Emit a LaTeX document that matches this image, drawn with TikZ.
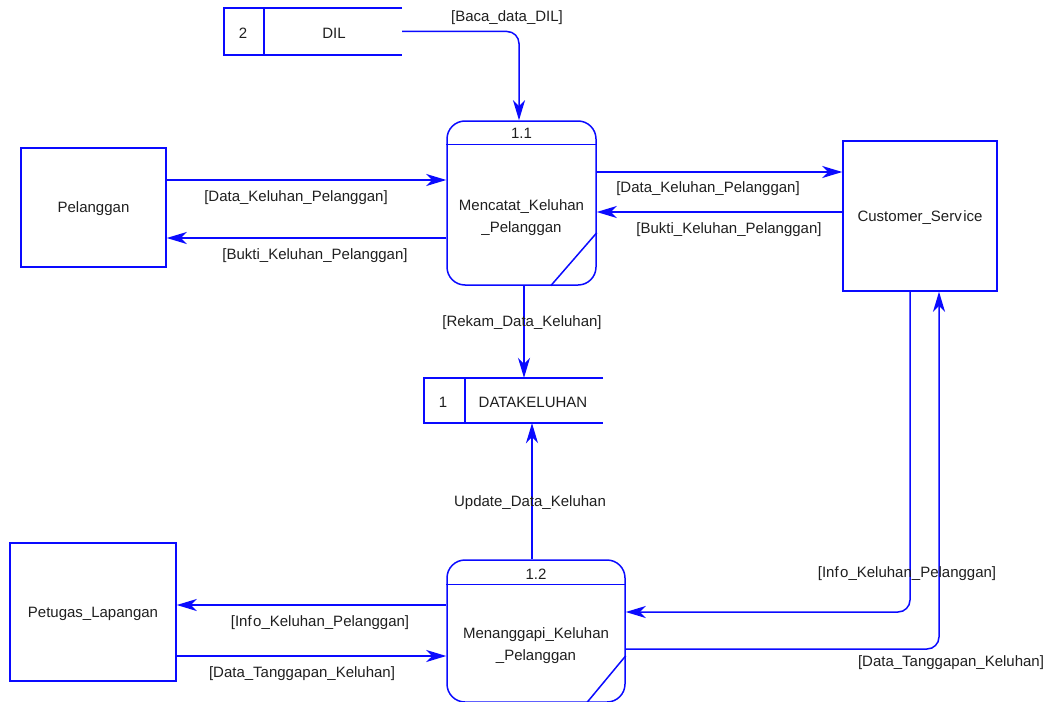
\documentclass[tikz,border=0pt]{standalone}
\usepackage{fontspec}
\setmainfont{Liberation Sans}
\usetikzlibrary{arrows.meta}
\definecolor{dfdblue}{RGB}{10,10,255}
\begin{document}
\begin{tikzpicture}[x=1pt,y=-1pt,
  every node/.style={font=\fontsize{15}{22}\selectfont, text=black!88, inner sep=0pt},
  ent/.style={draw=dfdblue, line width=1.5pt, rectangle},
  proc/.style={draw=dfdblue, line width=1.5pt, rounded corners=18pt},
  sline/.style={draw=dfdblue, line width=1.5pt},
  flow/.style={draw=dfdblue, line width=1.5pt, -{Stealth[length=20pt,width=12pt,inset=6pt]}},
  lbl/.style={align=center}]
\useasboundingbox (0,0) rectangle (1051,701);

% external entities
\node[ent, minimum width=145, minimum height=119] (pel) at (93.5,207.5) {};
\node (pelt) at (93.5,209) {Pelanggan};
\node[ent, minimum width=154, minimum height=150] (cs) at (920,216) {};
\node (cst) at (920,218) {Customer\_Serv\hspace{1.5pt}ice};
\node[ent, minimum width=166, minimum height=138] (pl) at (93,612) {};
\node (plt) at (93,614) {Petugas\_Lapangan};

% process 1.1
\node[proc, minimum width=149, minimum height=164] (p11) at (521.5,203) {};
\draw[sline] ([yshift=-24]p11.north west) -- ([yshift=-24]p11.north east);
\draw[sline] ([yshift=53]p11.south east) -- ([xshift=-46]p11.south east);
\node (p11id) at (521.5,133) {1.1};
\node[lbl] (p11t) at (521.5,218) {Mencatat\_Keluhan\\\_Pelanggan};

% process 1.2
\node[proc, minimum width=178, minimum height=142] (p12) at (536,631) {};
\draw[sline] ([yshift=-25]p12.north west) -- ([yshift=-25]p12.north east);
\draw[sline] ([yshift=47]p12.south east) -- ([xshift=-39]p12.south east);
\node (p12id) at (536,574) {1.2};
\node[lbl] (p12t) at (536,646) {Menanggapi\_Keluhan\\\_Pelanggan};

% data store DIL
\node[minimum width=178, minimum height=47] (dil) at (313,31.5) {};
\draw[sline] (dil.north east) -- (dil.north west) -- (dil.south west) -- (dil.south east);
\draw[sline] ([xshift=40]dil.north west) -- ([xshift=40]dil.south west);
\node (dilid) at (243,33) {2};
\node (dilt) at (334,33) {DIL};

% data store DATAKELUHAN
\node[minimum width=179, minimum height=45] (dk) at (513.5,400.5) {};
\draw[sline] (dk.north east) -- (dk.north west) -- (dk.south west) -- (dk.south east);
\draw[sline] ([xshift=41]dk.north west) -- ([xshift=41]dk.south west);
\node (dkid) at (443,402) {1};
\node (dkt) at (533,402) {DATAKELUHAN};

% flows
\draw[flow, rounded corners=12pt] (dil.east) -| ([xshift=-2.5]p11.north);
\draw[flow] (pel.east |- 0,180) -- (p11.west |- 0,180);
\draw[flow] (p11.west |- 0,238) -- (pel.east |- 0,238);
\draw[flow] (p11.east |- 0,172) -- (cs.west |- 0,172);
\draw[flow] (cs.west |- 0,212) -- (p11.east |- 0,212);
\draw[flow] (p11.south -| 524,0) -- (dk.north -| 524,0);
\draw[flow] (p12.north -| 532,0) -- (dk.south -| 532,0);
\draw[flow] (p12.west |- 0,605) -- (pl.east |- 0,605);
\draw[flow] (pl.east |- 0,656) -- (p12.west |- 0,656);
\draw[flow, rounded corners=12pt] (cs.south -| 910,0) |- (p12.east |- 0,612);
\draw[flow, rounded corners=12pt] (p12.east |- 0,649) -| (cs.south -| 939,0);

% labels
\node (l1) at (507,18) {[Baca\_data\_DIL]};
\node (l2) at (296,198) {[Data\_Keluhan\_Pelanggan]};
\node (l3) at (315,256) {[Bukti\_Keluhan\_Pelanggan]};
\node (l4) at (708,189) {[Data\_Keluhan\_Pelanggan]};
\node (l5) at (729,230) {[Bukti\_Keluhan\_Pelanggan]};
\node (l6) at (522,323) {[Rekam\_Data\_Keluhan]};
\node (l7) at (530,503) {Update\_Data\_Keluhan};
\node (l8) at (320,623) {[Inf\hspace{1.5pt}o\_Keluhan\_Pelanggan]};
\node (l9) at (302,674) {[Data\_Tanggapan\_Keluhan]};
\node (l10) at (907,574) {[Inf\hspace{1.5pt}o\_Keluhan\_Pelanggan]};
\node (l11) at (951,663) {[Data\_Tanggapan\_Keluhan]};
\end{tikzpicture}
\end{document}
